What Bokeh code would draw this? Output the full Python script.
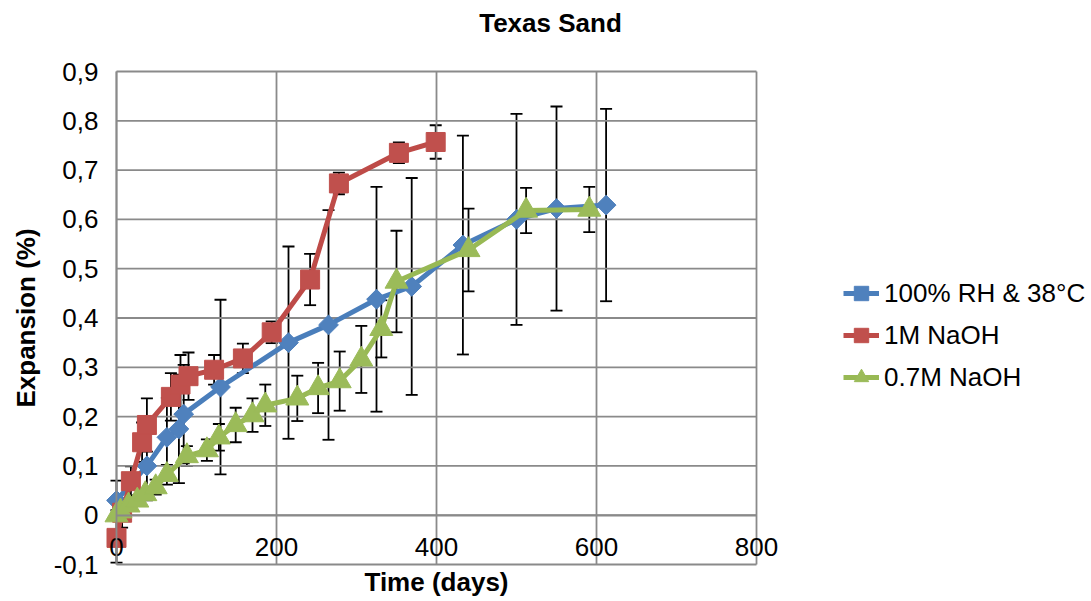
import numpy as np
from bokeh.plotting import figure
from bokeh.models import (Range1d, FixedTicker, CustomJSTickFormatter, Legend, LegendItem,
                          Whisker, TeeHead, ColumnDataSource, Label)
from bokeh.embed import file_html
from bokeh.resources import INLINE

# ---------------- data ----------------
blue_days = [0, 38, 63, 78, 84, 130, 215, 265, 325, 369, 433, 500, 550, 612]
blue_vals = [0.03, 0.10, 0.158, 0.175, 0.205, 0.26, 0.35, 0.386, 0.438, 0.464, 0.548, 0.60, 0.622, 0.629]
blue_err = [0.04, 0.07, 0.08, 0.11, 0.10, 0.177, 0.195, 0.233, 0.228, 0.22, 0.222, 0.214, 0.207, 0.195]

red_days = [0, 7, 18, 32, 38, 68, 80, 90, 122, 158, 194, 242, 278, 353, 399]
red_vals = [-0.046, 0.005, 0.069, 0.148, 0.183, 0.24, 0.265, 0.282, 0.295, 0.318, 0.371, 0.478, 0.673, 0.735, 0.757]
red_err = [0.05, 0.03, 0.03, 0.04, 0.054, 0.048, 0.06, 0.048, 0.03, 0.03, 0.022, 0.052, 0.022, 0.021, 0.034]

green_days = [0, 5, 15, 26, 36, 49, 63, 88, 113, 128, 149, 170, 186, 226, 252, 279, 306, 331, 350, 440, 512, 591]
green_vals = [0.0, 0.008, 0.02, 0.03, 0.043, 0.057, 0.082, 0.12, 0.132, 0.158, 0.183, 0.203, 0.223, 0.237,
              0.258, 0.272, 0.316, 0.378, 0.474, 0.538, 0.618, 0.620]
green_err = [0.01, 0.01, 0.01, 0.01, 0.01, 0.015, 0.02, 0.02, 0.022, 0.027, 0.035, 0.034, 0.042, 0.046,
             0.051, 0.06, 0.068, 0.058, 0.103, 0.084, 0.046, 0.046]

series_names = ["100% RH & 38°C", "1M NaOH", "0.7M NaOH"]
title_text = "Texas Sand"
x_ticks = [0, 200, 400, 600, 800]
y_ticks = [-0.1, 0.0, 0.1, 0.2, 0.3, 0.4, 0.5, 0.6, 0.7, 0.8, 0.9]

FONT = "Liberation Sans"
GRID = "#8a8a8a"

# plot area: x 0..800 -> px 116..756, y -0.1..0.9 -> px 564..71 (frame = whole canvas)
x_lo, x_hi = x_ticks[0], x_ticks[-1]
y_lo, y_hi = y_ticks[0], y_ticks[-1]
px_day = 640 / (x_hi - x_lo)
px_unit = 493 / (y_hi - y_lo)
xr = Range1d(x_lo - 116 / px_day, x_hi + (1091 - 756) / px_day)
yr = Range1d(y_lo - (601 - 564) / px_unit, y_hi + 71 / px_unit)

p = figure(width=1091, height=601, output_backend="svg", toolbar_location=None,
           x_range=xr, y_range=yr, min_border=0,
           min_border_left=0, min_border_right=0, min_border_top=0, min_border_bottom=0)
p.background_fill_color = "white"
p.border_fill_color = "white"
p.outline_line_color = None
p.xgrid.visible = False
p.ygrid.visible = False

# grid lines limited to the plot area
p.segment(x0=x_ticks, y0=[y_lo] * len(x_ticks), x1=x_ticks, y1=[y_hi] * len(x_ticks),
          line_color=GRID, line_width=1.8)
p.segment(x0=[x_lo] * len(y_ticks), y0=y_ticks, x1=[x_hi] * len(y_ticks), y1=y_ticks,
          line_color=GRID, line_width=1.8)

# axes
p.xaxis.ticker = FixedTicker(ticks=x_ticks)
p.yaxis.ticker = FixedTicker(ticks=y_ticks)
p.yaxis.formatter = CustomJSTickFormatter(code="""
    if (Math.abs(tick) < 1e-9) { return '0'; }
    return tick.toFixed(1).replace('.', ',');
""")
p.xaxis.fixed_location = 0
p.yaxis.fixed_location = 0
p.xaxis.bounds = (x_lo, x_hi)
p.yaxis.bounds = (y_lo, y_hi)
for ax in (p.xaxis, p.yaxis):
    ax.major_label_text_font = FONT
    ax.major_label_text_font_size = "26px"
    ax.major_label_text_color = "black"
    ax.axis_label_text_font = FONT
    ax.axis_label_text_font_size = "26px"
    ax.axis_label_text_font_style = "bold"
    ax.axis_label_text_color = "black"
    ax.axis_line_color = GRID
    ax.axis_line_width = 1.8
    ax.major_tick_out = 0
    ax.major_tick_in = 0
    ax.minor_tick_out = 0
    ax.minor_tick_in = 0
p.xaxis.axis_label = "Time (days)"
p.yaxis.axis_label = "Expansion (%)"
p.xaxis.major_label_standoff = 23
p.xaxis.axis_label_standoff = 7
p.yaxis.major_label_standoff = 18
p.yaxis.axis_label_standoff = 10

series = [
    (blue_days, blue_vals, blue_err, "#4a7ebb", "#4f81bd", "square", 14, np.pi / 4),
    (red_days, red_vals, red_err, "#be4b48", "#c0504d", "square", 19, 0.0),
    (green_days, green_vals, green_err, "#98b954", "#9bbb59", "triangle", 23, 0.0),
]

items = []
for (d, v, e, lc, mc, mk, sz, ang), name in zip(series, series_names):
    src = ColumnDataSource(dict(x=d, y=v))
    lr = p.line("x", "y", source=src, line_color=lc, line_width=5, line_join="round")
    sr = p.scatter("x", "y", source=src, marker=mk, size=sz, angle=ang,
                   fill_color=mc, line_color=mc, line_width=1)
    items.append(LegendItem(label=name, renderers=[lr, sr]))

for (d, v, e, lc, mc, mk, sz, ang) in series:
    src = ColumnDataSource(dict(x=d,
                                lo=[a - b for a, b in zip(v, e)],
                                hi=[a + b for a, b in zip(v, e)]))
    w = Whisker(source=src, base="x", lower="lo", upper="hi", dimension="height",
                line_color="black", line_width=1.8,
                upper_head=TeeHead(size=12, line_color="black", line_width=1.8),
                lower_head=TeeHead(size=12, line_color="black", line_width=1.8))
    p.add_layout(w)

legend = Legend(items=items, location=(843, 205), orientation="vertical",
                label_text_font=FONT, label_text_font_size="26px", label_text_color="black",
                glyph_width=36, glyph_height=38, label_height=38, spacing=4, label_standoff=5,
                padding=0, margin=0, border_line_color=None, background_fill_alpha=0)
p.add_layout(legend, "center")

title = Label(x=(550 - 116) / px_day + x_lo, y=y_hi + (71 - 22) / px_unit, text=title_text,
              text_font=FONT, text_font_size="26px", text_font_style="bold", text_color="black",
              text_align="center", text_baseline="middle")
p.add_layout(title)

open("out.html", "w").write(file_html(p, INLINE))
